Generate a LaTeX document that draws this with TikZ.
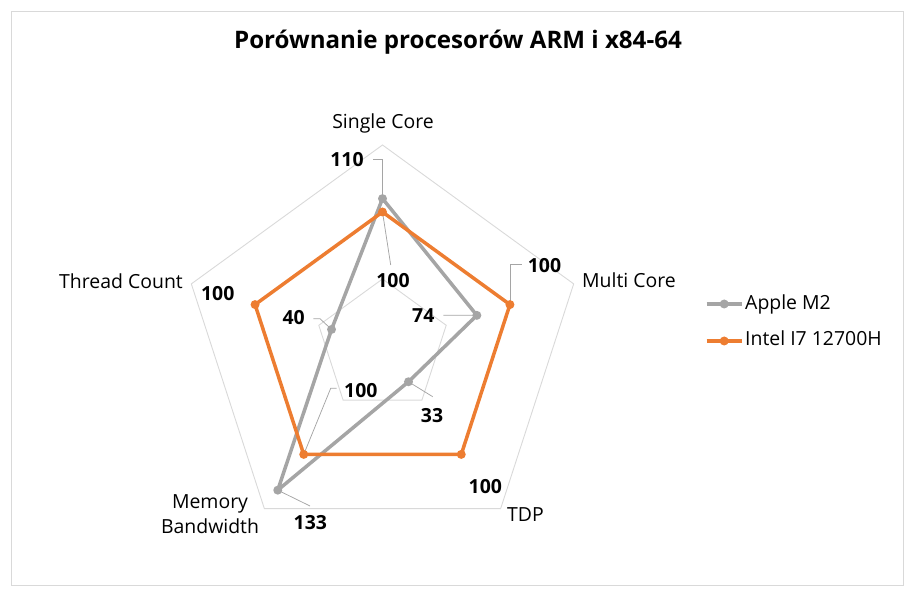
\documentclass[tikz,border=0pt]{standalone}
\usepackage{fontspec}
\setmainfont{Open Sans}
\definecolor{applegray}{HTML}{A5A5A5}
\definecolor{intelorange}{HTML}{ED7D31}
\definecolor{gridgray}{HTML}{D9D9D9}

\begin{document}
\begin{tikzpicture}[x=1bp, y=1bp,
apple/.style={draw=applegray, line width=3.5bp, line join=round},
intel/.style={draw=intelorange, line width=3.5bp, line join=round},
grid/.style={draw=gridgray, line width=0.9bp},
leader/.style={draw=applegray, line width=0.75bp},
axis/.style={font=\fontsize{19.5}{25.5}\selectfont, inner sep=0pt},
value/.style={font=\fontsize{19.5}{24}\selectfont\bfseries, inner sep=0pt, anchor=base}]
\tikzstyle{datadot}=[circle, inner sep=0pt, minimum size=9bp]

\useasboundingbox (0,0) rectangle (914,599);
\draw[grid] (11,14) rectangle (903,588);

%Title
\node[font=\fontsize{24.2}{29}\selectfont\bfseries, anchor=base] (title) at (458,550) {Porównanie procesorów ARM i x84-64};

%Grid and data points
\coordinate (C) at (382.5,253);
\begin{scope}[shift={(C)}]
\draw[grid] (90:67) -- (18:67) -- (-54:67) -- (234:67) -- (162:67) -- cycle;
\draw[grid] (90:134) -- (18:134) -- (-54:134) -- (234:134) -- (162:134) -- cycle;
\draw[grid] (90:201) -- (18:201) -- (-54:201) -- (234:201) -- (162:201) -- cycle;
\coordinate (a1) at (90:147.4);
\coordinate (a2) at (18:99.2);
\coordinate (a3) at (-54:44.2);
\coordinate (a4) at (234:178.2);
\coordinate (a5) at (162:53.6);
\coordinate (b1) at (90:134);
\coordinate (b2) at (18:134);
\coordinate (b3) at (-54:134);
\coordinate (b4) at (234:134);
\coordinate (b5) at (162:134);
\end{scope}

%Axis labels
\node[axis, anchor=base] (sc) at (383,470.7) {Single Core};
\node[axis, anchor=base west] (mc) at (582,311) {Multi Core};
\node[axis, anchor=base west] (tdp) at (507,77.3) {TDP};
\node[axis, align=center, anchor=north] (mb) at (210,104.6) {Memory\\Bandwidth};
\node[axis, anchor=base east] (tc) at (183,310) {Thread Count};

%Leader lines
\coordinate (kA1) at (372.7,439.7);
\coordinate (kB1) at (390.7,334);
\coordinate (kA2) at (443.3,283.7);
\coordinate (kB2) at (521.7,334.7);
\coordinate (kA3) at (432.7,202.3);
\coordinate (kA4) at (310,93);
\coordinate (kB4) at (336.7,210.7);
\coordinate (kA5) at (313.3,280.3);
\draw[leader] (a1) |- (kA1);
\draw[leader] (b1) -- (kB1);
\draw[leader] (kA2) -- (a2);
\draw[leader] (b2) |- (kB2);
\draw[leader] (a3) -- (kA3);
\draw[leader] (a4) -- (kA4);
\draw[leader] (b4) -- ([xshift=-6bp]kB4) -- (kB4);
\draw[leader] (a5) -- ([xshift=6.7bp]kA5) -- (kA5);

%Apple M2
\draw[apple] (a1) -- (a2) -- (a3) -- (a4) -- (a5) -- cycle;
\node[datadot, fill=applegray] (pa1) at (a1) {};
\node[datadot, fill=applegray] (pa2) at (a2) {};
\node[datadot, fill=applegray] (pa3) at (a3) {};
\node[datadot, fill=applegray] (pa4) at (a4) {};
\node[datadot, fill=applegray] (pa5) at (a5) {};

%Intel I7
\draw[intel] (b1) -- (b2) -- (b3) -- (b4) -- (b5) -- cycle;
\node[datadot, fill=intelorange] (pb1) at (b1) {};
\node[datadot, fill=intelorange] (pb2) at (b2) {};
\node[datadot, fill=intelorange] (pb3) at (b3) {};
\node[datadot, fill=intelorange] (pb4) at (b4) {};
\node[datadot, fill=intelorange] (pb5) at (b5) {};

%Values
\node[value] (vA1) at (347,432.3) {110};
\node[value] (vB1) at (393,311.7) {100};
\node[value] (vA2) at (423.3,276.3) {74};
\node[value] (vB2) at (544.5,326.3) {100};
\node[value] (vA3) at (432,176.7) {33};
\node[value] (vB3) at (485.3,105) {100};
\node[value] (vA4) at (310.3,69) {133};
\node[value] (vB4) at (360.8,201.7) {100};
\node[value] (vA5) at (293.7,274) {40};
\node[value] (vB5) at (217.7,298.3) {100};

%Legend
\coordinate (lgA) at (706.7,295);
\coordinate (lgA2) at (741.7,295);
\coordinate (lgB) at (706.7,258);
\coordinate (lgB2) at (741.7,258);
\draw[apple] (lgA) -- (lgA2);
\node[datadot, fill=applegray] (lgAdot) at ([xshift=17.5bp]lgA) {};
\draw[intel] (lgB) -- (lgB2);
\node[datadot, fill=intelorange] (lgBdot) at ([xshift=17.5bp]lgB) {};
\node[axis, anchor=base west] (lgApple) at (745,289.7) {Apple M2};
\node[axis, anchor=base west] (lgIntel) at (745,253) {Intel I7 12700H};
\end{tikzpicture}
\end{document}
